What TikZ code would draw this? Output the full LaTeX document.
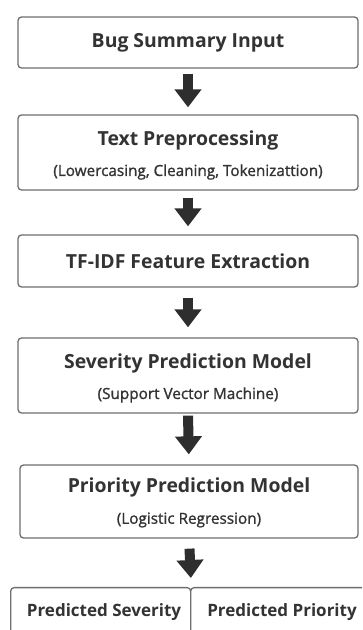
\documentclass[tikz,border=0pt]{standalone}
\usepackage{fontspec}
\setmainfont{Open Sans}
\newfontfamily\subfont[FakeBold=1.2]{Open Sans}
\usetikzlibrary{arrows.meta}
\definecolor{txt}{HTML}{333333}
\definecolor{edge}{HTML}{6E6E6E}
\definecolor{arr}{HTML}{2E2E2E}
\tikzset{
  stage/.style={draw=edge, line width=1.3pt, rounded corners=3.5pt, fill=white,
    minimum width=340pt, inner sep=0pt, text=txt, align=center},
  outbox/.style={draw=edge, line width=1.3pt, rounded corners=3.5pt, fill=white,
    minimum width=180pt, minimum height=76pt, inner sep=0pt, text=txt},
  title/.style={font=\bfseries\fontsize{19.4}{21}\selectfont, text=txt},
  outtitle/.style={font=\bfseries\fontsize{17}{19}\selectfont, text=txt},
  sub/.style={font=\subfont\fontsize{15.3}{17}\selectfont, text=txt},
  flow/.style={draw=arr, line width=10pt, -{Triangle[width=26pt,length=18pt]}}
}
\begin{document}
\begin{tikzpicture}[x=1pt,y=1pt]
\useasboundingbox (0,0) rectangle (362,630);
\clip (0,0) rectangle (362,630);
\fill[white] (0,0) rectangle (362,630);
% boxes
\node[stage, minimum height=51pt] (b1) at (188,587.5) {};
\node[title] at (188,587) {Bug Summary Input};
\node[stage, minimum height=75pt] (b2) at (188,477.5) {};
\node[title] (t2) at (188,490) {Text Preprocessing};
\node[sub] at (188,458) {(Lowercasing, Cleaning, Tokenizattion)};
\node[stage, minimum height=52pt] (b3) at (188,369) {};
\node[title] at (188,368.5) {TF-IDF Feature Extraction};
\node[stage, minimum height=75pt] (b4) at (188,254.5) {};
\node[title] at (188,267) {Severity Prediction Model};
\node[sub] at (188,235) {(Support Vector Machine)};
\node[stage, minimum width=338pt, minimum height=73pt] (b5) at (189,128.5) {};
\node[title] at (189,143) {Priority Prediction Model};
\node[sub] at (189,110) {(Logistic Regression)};
% outputs
\node[outbox, anchor=north west] (sev) at (10,43) {};
\node[outbox, anchor=north west] (pri) at (190,43) {};
\node[outtitle] at (104,18) {Predicted Severity};
\node[outtitle] at (282,18) {Predicted Priority};
% arrows
\draw[flow, shorten <=5pt, shorten >=7pt] (b1.south) -- (b2.north);
\draw[flow, shorten <=7pt, shorten >=8pt] (b2.south) -- (b3.north);
\draw[flow, shorten <=10pt, shorten >=10pt] (b3.south) -- (b4.north);
\draw[flow, shorten <=2pt, shorten >=10pt] (b4.south) -- (b5.north);
\draw[flow, shorten <=10pt, shorten >=9pt] (b5.south) -- (sev.north east);
\end{tikzpicture}
\end{document}
